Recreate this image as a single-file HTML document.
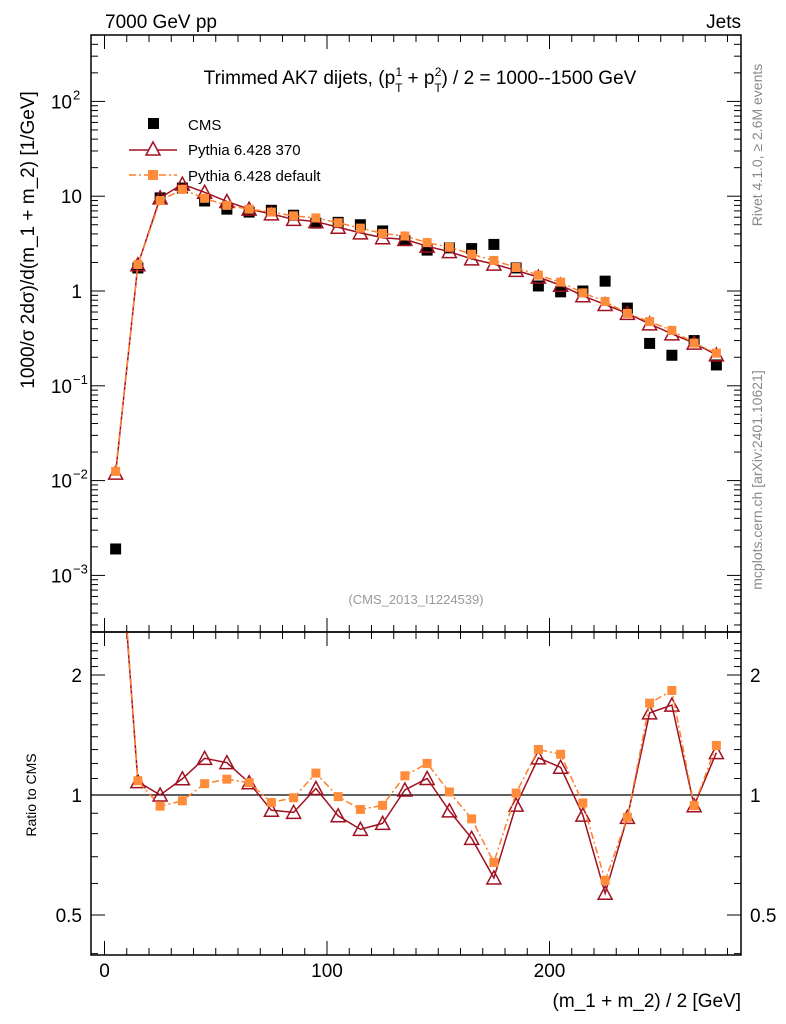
<!DOCTYPE html>
<html><head><meta charset="utf-8"><style>
body{margin:0;background:#fff;}
svg{display:block;font-family:"Liberation Sans",sans-serif;}
</style></head><body>
<svg id="c" width="786" height="1024" viewBox="0 0 786 1024" xmlns="http://www.w3.org/2000/svg">
<text x="105" y="28" font-size="19">7000 GeV pp</text>
<text x="741" y="28" font-size="19" text-anchor="end">Jets</text>
<text x="420" y="84" font-size="19" text-anchor="middle">Trimmed AK7 dijets, (p<tspan dy="8" font-size="12">T</tspan><tspan dy="-16" dx="-7" font-size="12">1</tspan><tspan dy="8"> + p</tspan><tspan dy="8" font-size="12">T</tspan><tspan dy="-16" dx="-7" font-size="12">2</tspan><tspan dy="8">) / 2 = 1000--1500 GeV</tspan></text>
<text transform="translate(34,240) rotate(-90)" font-size="19" text-anchor="middle">1000/σ   2dσ)/d(m_1 + m_2) [1/GeV]</text>
<text transform="translate(36,795) rotate(-90)" font-size="14" text-anchor="middle">Ratio to CMS</text>
<text x="741" y="1007" font-size="19" text-anchor="end">(m_1 + m_2) / 2 [GeV]</text>
<text transform="translate(762,145) rotate(-90)" font-size="14" fill="#888" text-anchor="middle">Rivet 4.1.0, ≥ 2.6M events</text>
<text transform="translate(762,480) rotate(-90)" font-size="14" fill="#888" text-anchor="middle">mcplots.cern.ch [arXiv:2401.10621]</text>
<text x="416" y="604" font-size="13" fill="#999" text-anchor="middle">(CMS_2013_I1224539)</text>
<g>
<rect x="148" y="118" width="11" height="11" fill="#000"/>
<text x="188" y="130" font-size="15">CMS</text>
<line x1="129" y1="150" x2="177" y2="150" stroke="#a01020" stroke-width="1.5"/>
<polygon points="153,142 146,155 160,155" fill="#fff" stroke="#a01020" stroke-width="1.5"/>
<text x="188" y="155" font-size="15">Pythia 6.428 370</text>
<line x1="129" y1="175" x2="177" y2="175" stroke="#ff7f2a" stroke-width="1.5" stroke-dasharray="7,3,2,3"/>
<rect x="148" y="170" width="10" height="10" fill="#ff8c3a"/>
<text x="188" y="181" font-size="15">Pythia 6.428 default</text>
</g>
<g id="g"></g>
</svg>
<script>
const xCenters=[5,15,25,35,45,55,65,75,85,95,105,115,125,135,145,155,165,175,185,195,205,215,225,235,245,255,265,275];
const cmsValues=[0.0019,1.75,9.6,12.2,8.9,7.3,6.8,7.1,6.3,5.2,5.3,5.0,4.3,3.4,2.7,2.85,2.8,3.1,1.75,1.13,0.98,1.0,1.27,0.66,0.28,0.21,0.30,0.166];
const p370Values=[0.012,1.89,9.6,13.4,11.0,8.8,7.3,6.5,5.7,5.4,4.7,4.1,3.65,3.5,2.97,2.6,2.18,1.92,1.65,1.4,1.15,0.89,0.72,0.58,0.45,0.353,0.282,0.212];
const pDefValues=[0.0125,1.9,9.0,11.8,9.5,8.0,7.3,6.8,6.2,5.9,5.25,4.6,4.05,3.8,3.24,2.9,2.44,2.1,1.77,1.47,1.24,0.955,0.775,0.58,0.476,0.384,0.282,0.221];
const xTicks=[0,100,200];
const yTickExp=[-3,-2,-1,0,1,2];
const yTickLabels=["10","10","10","1","10","10"];
const yTickSup=["−3","−2","−1","","","2"];
const rTicks=[0.5,1,2];
const rTickLabels=["0.5","1","2"];

const L=91,R=741,T=35,M=632,B=955;
const xs=v=>104.5+2.225*v;
const ys=v=>291-94.8*Math.log10(v);
const yr=v=>795-120*Math.log2(v);
const NS="http://www.w3.org/2000/svg";
const g=document.getElementById('g');
function mk(t,a,p){const e=document.createElementNS(NS,t);for(const k in a)e.setAttribute(k,a[k]);(p||g).appendChild(e);return e;}

const defs=mk('defs',{});
const c1=mk('clipPath',{id:'cm'},defs);mk('rect',{x:L,y:T,width:R-L,height:M-T},c1);
const c2=mk('clipPath',{id:'cr'},defs);mk('rect',{x:L,y:M,width:R-L,height:B-M},c2);

let e=mk('rect',{x:L,y:T,width:R-L,height:M-T,fill:'none',stroke:'#000','stroke-width':1.5});


e=mk('rect',{x:L,y:M,width:R-L,height:B-M,fill:'none',stroke:'#000','stroke-width':1.5});



for(let v=0;v<=280;v+=10){
  const maj=v%100===0, len=maj?14:7, x=xs(v);
  for(const [y0,d] of [[T,1],[M,-1],[M,1],[B,-1]]) mk('line',{x1:x,y1:y0,x2:x,y2:y0+d*len,stroke:'#000'});
}
xTicks.forEach(v=>{
  const t=mk('text',{x:xs(v),y:977,'font-size':19,'text-anchor':'middle'});t.textContent=v;
  
  
});
for(let ex=-4;ex<=2;ex++){
  for(let m=1;m<10;m++){
    const y=ys(m*Math.pow(10,ex)); if(y<T||y>M) continue;
    const len=m===1?14:7;
    mk('line',{x1:L,y1:y,x2:L+len,y2:y,stroke:'#000'});
    mk('line',{x1:R,y1:y,x2:R-len,y2:y,stroke:'#000'});
  }
}
yTickExp.forEach((ex,i)=>{
  const t=mk('text',{x:yTickSup[i]?72:82,y:ys(Math.pow(10,ex))+7,'font-size':19,'text-anchor':'end'});
  t.textContent=yTickLabels[i];
  
  
  if(yTickSup[i]){const s=mk('text',{x:73,y:ys(Math.pow(10,ex))-2,'font-size':13});s.textContent=yTickSup[i];}
});
for(let v=0.4;v<=2.5;v+=0.1){
  const y=yr(v); if(y<M||y>B) continue;
  const maj=rTicks.some(r=>Math.abs(r-v)<1e-6), len=maj?14:7;
  mk('line',{x1:L,y1:y,x2:L+len,y2:y,stroke:'#000'});
  mk('line',{x1:R,y1:y,x2:R-len,y2:y,stroke:'#000'});
}
rTicks.forEach((v,i)=>{
  let t=mk('text',{x:82,y:yr(v)+7,'font-size':19,'text-anchor':'end'});t.textContent=rTickLabels[i];
  
  
  t=mk('text',{x:750,y:yr(v)+7,'font-size':19});t.textContent=rTickLabels[i];
  
  
});
mk('line',{x1:L,y1:yr(1),x2:R,y2:yr(1),stroke:'#000','stroke-width':1.2});

const gm=mk('g',{'clip-path':'url(#cm)'});
const gr=mk('g',{'clip-path':'url(#cr)'});
function series(vals,yf,color,dash,type,parent,name){
  const pts=vals.map((v,i)=>xs(xCenters[i])+','+yf(v)).join(' ');
  if(type!=='cms'){
    const l=mk('polyline',{points:pts,fill:'none',stroke:color,'stroke-width':1.5,'stroke-dasharray':dash||'none'},parent);
    
    
  }
  vals.forEach((v,i)=>{
    const x=xs(xCenters[i]),y=yf(v);let m;
    if(type==='cms') m=mk('rect',{x:x-5.5,y:y-5.5,width:11,height:11,fill:'#000'},parent);
    else if(type==='tri') m=mk('polygon',{points:`${x},${y-7} ${x-7},${y+6} ${x+7},${y+6}`,fill:'#fff','fill-opacity':0.01,stroke:color,'stroke-width':1.5},parent);
    else m=mk('rect',{x:x-4.5,y:y-4.5,width:9,height:9,fill:'#ff8c3a'},parent);
    
    
  });
}
series(cmsValues,ys,'#000',null,'cms',gm,'cms');
series(p370Values,ys,'#a01020',null,'tri',gm,'pythia-370');
series(pDefValues,ys,'#ff7f2a','7,3,2,3','sq',gm,'pythia-default');
series(p370Values.map((v,i)=>v/cmsValues[i]),yr,'#a01020',null,'tri',gr,'ratio-pythia-370');
series(pDefValues.map((v,i)=>v/cmsValues[i]),yr,'#ff7f2a','7,3,2,3','sq',gr,'ratio-pythia-default');
</script>
</body></html>
